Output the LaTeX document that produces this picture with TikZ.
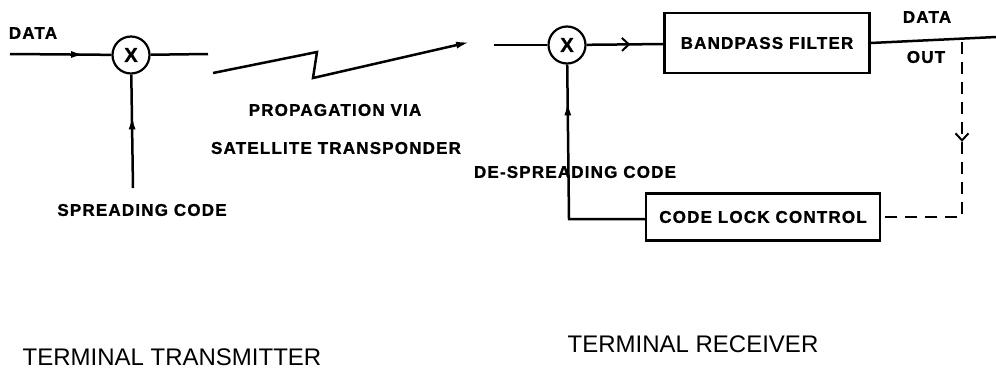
\documentclass[tikz,border=0pt]{standalone}
\usepackage{fontspec}
\setmainfont{Liberation Sans}
\newfontfamily\lblfont[LetterSpace=7,FakeBold=1.2]{Liberation Sans Bold}
\usetikzlibrary{arrows.meta,decorations.markings}

\tikzset{
	lbl/.style={font=\lblfont\fontsize{17}{19}\selectfont, inner sep=0pt},
	title/.style={font=\fontsize{24}{26}\selectfont, inner sep=0pt},
	mixer/.style={circle, draw, line width=2.2pt, minimum size=37pt, inner sep=0pt,
		font=\lblfont\fontsize{20}{20}\selectfont},
	block/.style={draw, rectangle, line width=2.2pt, inner sep=0pt},
	fwd/.style={postaction={decorate}, decoration={markings,
		mark=at position #1 with {\arrow{Latex[length=14pt,width=7pt]}}}},
	barb/.style={postaction={decorate}, decoration={markings,
		mark=at position #1 with {\arrow[solid]{Straight Barb[length=7pt,width=13pt,line width=2pt]}}}},
}

\begin{document}
\begin{tikzpicture}[x=1pt, y=-1pt, line width=2.5pt]
	\useasboundingbox (0,0) rectangle (996,370);
	
	% transmitter
	\node[lbl] (din) at (33,33) {DATA};
	\coordinate (tin) at (10,54);
	\node[mixer] (mt) at (131,55) {X};
	\coordinate (tout) at (208,54);
	\coordinate (tcode) at (133,188);
	\node[lbl] (sc) at (142,210) {SPREADING CODE};
	\draw[fwd=0.74] (tin) -- (mt);
	\draw (mt) -- (tout);
	\draw[fwd=0.64] (tcode) -- (mt);
	
	% propagation
	\coordinate (z1) at (213,73);
	\coordinate (z2) at (317,52);
	\coordinate (z3) at (313,78);
	\coordinate (z4) at (470,42);
	\draw[-{Latex[length=14pt,width=7pt]}] (z1) -- (z2) -- (z3) -- (z4);
	\node[lbl] (pv) at (335,110) {PROPAGATION VIA};
	\node[lbl] (st) at (336,148) {SATELLITE TRANSPONDER};
	
	% receiver
	\coordinate (rin) at (494,45);
	\node[mixer] (mr) at (567,45) {X};
	\node[block, minimum width=205pt, minimum height=60pt] (bpf) at (767,43)
		{\lblfont\fontsize{17}{19}\selectfont BANDPASS FILTER};
	\coordinate (rout) at (996,37);
	\node[lbl] (dout) at (927,17) {DATA};
	\node[lbl] (out) at (926,57) {OUT};
	\node[block, minimum width=234pt, minimum height=47pt] (cl) at (763,217)
		{\lblfont\fontsize{17}{19}\selectfont CODE LOCK CONTROL};
	\node[lbl] (dsc) at (575,172) {DE-SPREADING CODE};
	\coordinate (tap) at (962,42);
	\coordinate (fb) at (962,217);
	\coordinate (lc) at (569,219);
	
	\draw (rin) -- (mr);
	\draw[barb=0.57] (mr) -- (bpf);
	\draw (bpf.east) -- (rout);
	\draw[line width=2pt, dash pattern=on 12pt off 8pt, barb=0.39] (tap) -- (fb) -- (cl.east);
	\draw[fwd=0.84] (cl.west |- lc) -- (lc) -- (mr);
	
	% titles
	\node[title] (tt) at (172,357) {TERMINAL TRANSMITTER};
	\node[title] (tr) at (693,344) {TERMINAL RECEIVER};
\end{tikzpicture}
\end{document}
